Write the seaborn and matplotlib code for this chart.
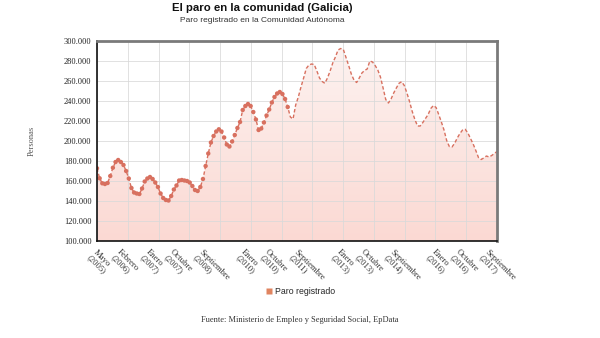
import numpy as np
import pandas as pd
import matplotlib
matplotlib.use("Agg")
import matplotlib.pyplot as plt
import seaborn as sns
from matplotlib.lines import Line2D
from matplotlib.colors import LinearSegmentedColormap

# Paro registrado en Galicia, mensual desde mayo de 2005 (miles de personas)
paro_miles = [
    172.7, 162.7, 157.7, 157.0, 158.0, 165.0, 173.3, 179.0, 181.0, 179.0,
    176.0, 170.0, 162.5, 153.0, 148.5, 147.5, 147.0, 152.5, 159.5, 162.5,
    164.0, 162.0, 158.5, 154.0, 147.5, 143.0, 141.0, 140.5, 145.0, 151.5,
    155.5, 160.5, 161.0, 160.5, 160.0, 158.5, 155.0, 151.0, 150.0, 154.0,
    162.0, 175.0, 187.5, 198.5, 205.0, 209.5, 211.7, 209.5, 203.5, 196.5,
    194.5, 199.5, 206.0, 213.0, 219.0, 231.0, 235.0, 237.0, 235.0, 229.0,
    221.5, 211.0, 212.5, 218.5, 225.5, 231.5, 238.5, 244.0, 247.5, 249.0,
    247.0, 242.0, 234.0, 224.0, 222.0, 236.0, 244.0, 254.0, 263.0, 272.5,
    276.0, 277.0, 276.5, 270.0, 263.0, 259.5, 257.7, 263.0, 270.0, 278.0,
    284.0, 291.0, 292.5, 291.5, 283.5, 275.5, 267.0, 261.0, 258.5, 263.0,
    268.0, 270.5, 272.0, 280.0, 279.0, 275.5, 271.0, 264.0, 253.0, 241.5,
    238.0, 242.0, 248.0, 253.0, 257.7, 259.3, 255.5, 248.0, 239.3, 229.5,
    221.5, 215.0, 215.0, 218.5, 222.5, 226.5, 232.5, 235.5, 233.5, 226.5,
    219.0, 211.0, 200.5, 194.5, 194.0, 197.7, 203.0, 207.5, 211.0, 211.7,
    208.0, 202.5, 197.0, 190.5, 183.5, 181.5, 183.0, 185.0, 184.0, 185.5,
    187.5, 189.5,
]

# Etiquetas del eje temporal (índice de mes desde mayo de 2005)
tick_meses = [0, 9, 20, 29, 40, 56, 65, 76, 92, 101, 112, 128, 137, 148]
tick_textos = [
    "Mayo\n(2005)", "Febrero\n(2006)", "Enero\n(2007)", "Octubre\n(2007)",
    "Septiembre\n(2008)", "Enero\n(2010)", "Octubre\n(2010)",
    "Septiembre\n(2011)", "Enero\n(2013)", "Octubre\n(2013)",
    "Septiembre\n(2014)", "Enero\n(2016)", "Octubre\n(2016)",
    "Septiembre\n(2017)",
]
y_ticks = [100000, 120000, 140000, 160000, 180000, 200000, 220000,
           240000, 260000, 280000, 300000]

df = pd.DataFrame({
    "mes": np.arange(len(paro_miles)),
    "personas": np.array(paro_miles) * 1000,
})
n_marcadores = 73  # los primeros meses se dibujan con marcador

sns.set_style("white")
serif = ["Liberation Serif", "DejaVu Serif"]
sans = ["Liberation Sans", "DejaVu Sans"]

fig = plt.figure(figsize=(6.0, 3.38), dpi=100)
ax = fig.add_axes([97 / 600, 1 - 241 / 338, 400 / 600, 200 / 338])

x_max = df["mes"].iloc[-1]
ax.set_xlim(0, x_max)
ax.set_ylim(100000, 300000)

# Relleno con degradado bajo la serie
cmap = LinearSegmentedColormap.from_list("relleno", ["#fbd9d3", "#fdf3f1"])
grad = np.linspace(0, 1, 256).reshape(-1, 1)
poly = ax.fill_between(df["mes"], df["personas"], 100000, color="none", lw=0)
img = ax.imshow(grad, cmap=cmap, aspect="auto", origin="lower",
                extent=[0, x_max, 100000, 300000], zorder=1)
img.set_clip_path(poly.get_paths()[0], transform=ax.transData)

# Rejilla
for yv in y_ticks:
    ax.axhline(yv, color="#d9d9d9", lw=0.7, alpha=0.8, zorder=2)
for xv in np.linspace(0, x_max, 14):
    ax.axvline(xv, color="#d9d9d9", lw=0.7, alpha=0.8, zorder=2)

linea = "#d8705f"
sns.lineplot(data=df, x="mes", y="personas", ax=ax, color=linea,
             lw=1.0, linestyle=(0, (2.5, 1.6)), zorder=4)
sns.scatterplot(data=df.iloc[:n_marcadores], x="mes", y="personas", ax=ax,
                color=linea, s=10, edgecolor="none", zorder=5)

ax.set_xlabel("")
ax.set_ylabel("")
ax.set_xticks(tick_meses)
ax.set_xticklabels(tick_textos, rotation=-45, ha="left", va="top",
                   rotation_mode="anchor", fontsize=6.2, family=serif,
                   color="#333333", linespacing=0.95)
ax.set_yticks(y_ticks)
ax.set_yticklabels([f"{v:,}".replace(",", ".") for v in y_ticks],
                   fontsize=6, family=serif, color="#222222")
ax.tick_params(axis="x", length=3, width=0.6, color="#333333", pad=2)
ax.tick_params(axis="y", length=3, width=0.6, color="#333333", pad=1)

for lado in ["left", "bottom"]:
    ax.spines[lado].set_color("#111111")
    ax.spines[lado].set_linewidth(1.2)
for lado in ["top", "right"]:
    ax.spines[lado].set_color("#7a7a7a")
    ax.spines[lado].set_linewidth(2.0)
for s in ax.spines.values():
    s.set_zorder(6)

fig.text(32 / 600, 1 - 141 / 338, "Personas", rotation=90, ha="center",
         va="center", fontsize=6, family=serif, color="#555555")

fig.text(262 / 600, 1 - 8 / 338, "El paro en la comunidad (Galicia)",
         ha="center", va="center", fontsize=8.2, fontweight="bold",
         family=sans, color="#111111")
fig.text(262 / 600, 1 - 20 / 338, "Paro registrado en la Comunidad Autónoma",
         ha="center", va="center", fontsize=6.0, family=sans,
         color="#333333")

handle = Line2D([], [], marker="s", linestyle="none", markersize=4,
                markerfacecolor="#e08460", markeredgecolor="none")
fig.legend([handle], ["Paro registrado"], loc="center",
           bbox_to_anchor=(0.5, 1 - 292 / 338), frameon=False,
           prop={"family": sans, "size": 6.3}, handletextpad=0.2,
           handlelength=1.0)

fig.text(0.5, 1 - 320 / 338,
         "Fuente: Ministerio de Empleo y Seguridad Social, EpData",
         ha="center", va="center", fontsize=6, family=serif,
         color="#333333")

fig.savefig("out.png", dpi=100)
